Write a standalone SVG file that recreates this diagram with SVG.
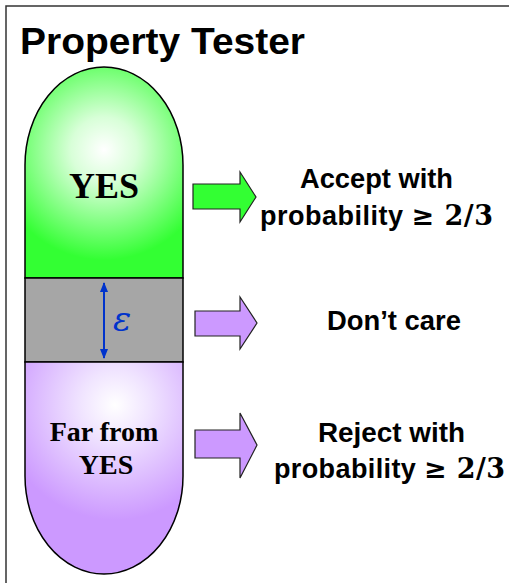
<svg xmlns="http://www.w3.org/2000/svg" width="509" height="583" viewBox="0 0 509 583">
<defs>
<radialGradient id="gG" cx="104" cy="150" r="110" gradientUnits="userSpaceOnUse">
<stop offset="0" stop-color="#ffffff"/>
<stop offset="0.3" stop-color="#d8ffd8"/>
<stop offset="1" stop-color="#33ff33"/>
</radialGradient>
<radialGradient id="gP" cx="115" cy="405" r="115" gradientUnits="userSpaceOnUse">
<stop offset="0" stop-color="#ffffff"/>
<stop offset="0.3" stop-color="#f0e4ff"/>
<stop offset="1" stop-color="#cc99ff"/>
</radialGradient>
<marker id="ah" viewBox="0 0 10 10" refX="9" refY="5" markerWidth="5" markerHeight="5" orient="auto-start-reverse">
<path d="M0,1 L10,5 L0,9 Z" fill="#0033cc"/>
</marker>
<style>
.shape{stroke:#000;stroke-width:1.5}
.cal{font-family:"Liberation Sans",Arial,sans-serif;font-weight:bold;fill:#000}
.tnr{font-family:"Liberation Serif","Times New Roman",serif;font-weight:bold;fill:#000}
.math{font-family:"DejaVu Serif","Liberation Serif",serif;font-weight:bold;font-size:27px}
.blk{stroke:#222;stroke-width:1.2}
</style>
</defs>
<rect x="6" y="6" width="540" height="600" fill="#fff" stroke="#333" stroke-width="1.5"/>
<text class="cal" x="20" y="54" font-size="37" textLength="285" lengthAdjust="spacingAndGlyphs">Property Tester</text>
<g id="yes">
<path class="shape" d="M25,278 L25,165 A79,98 0 0 1 183,165 L183,278 Z" fill="url(#gG)"/>
<text class="tnr" x="104" y="198" font-size="36" text-anchor="middle">YES</text>
</g>
<g id="gap">
<rect class="shape" x="25" y="278" width="158" height="84" fill="#a6a6a6"/>
</g>
<g id="far">
<path class="shape" d="M25,362 L183,362 L183,476 A79,98 0 0 1 25,476 Z" fill="url(#gP)"/>
<text class="tnr" x="104" y="441" font-size="28" text-anchor="middle">Far from</text>
<text class="tnr" x="106" y="474" font-size="28" text-anchor="middle">YES</text>
</g>
<g id="epsilon">
<line x1="104" y1="283" x2="104" y2="358" stroke="#0033cc" stroke-width="2" marker-start="url(#ah)" marker-end="url(#ah)"/>
<text x="113" y="331" font-family="'DejaVu Serif','Liberation Serif',serif" font-style="italic" font-size="34" fill="#0033cc">ε</text>
</g>
<g id="connectors">
<path class="blk" d="M193,184 L240,184 L240,172 L256,197 L240,222 L240,209 L193,209 Z" fill="#33ff33"/>
<path class="blk" d="M195,311 L240,311 L240,297 L257,323 L240,349 L240,336 L195,336 Z" fill="#cc99ff"/>
<path class="blk" d="M195,430 L240,430 L240,413 L257,445 L240,478 L240,458 L195,458 Z" fill="#cc99ff"/>
</g>
<g id="accept">
<text class="cal" x="300" y="188" font-size="27" textLength="153" lengthAdjust="spacingAndGlyphs">Accept with</text>
<text class="cal" x="260" y="225" font-size="27" textLength="233" lengthAdjust="spacing">probability <tspan class="math">≥ 2/3</tspan></text>
</g>
<g id="dontcare">
<text class="cal" x="327" y="330" font-size="27" textLength="134" lengthAdjust="spacingAndGlyphs">Don’t care</text>
</g>
<g id="reject">
<text class="cal" x="318" y="442" font-size="27" textLength="147" lengthAdjust="spacingAndGlyphs">Reject with</text>
<text class="cal" x="274" y="478" font-size="27" textLength="231" lengthAdjust="spacing">probability <tspan class="math">≥ 2/3</tspan></text>
</g>
</svg>
